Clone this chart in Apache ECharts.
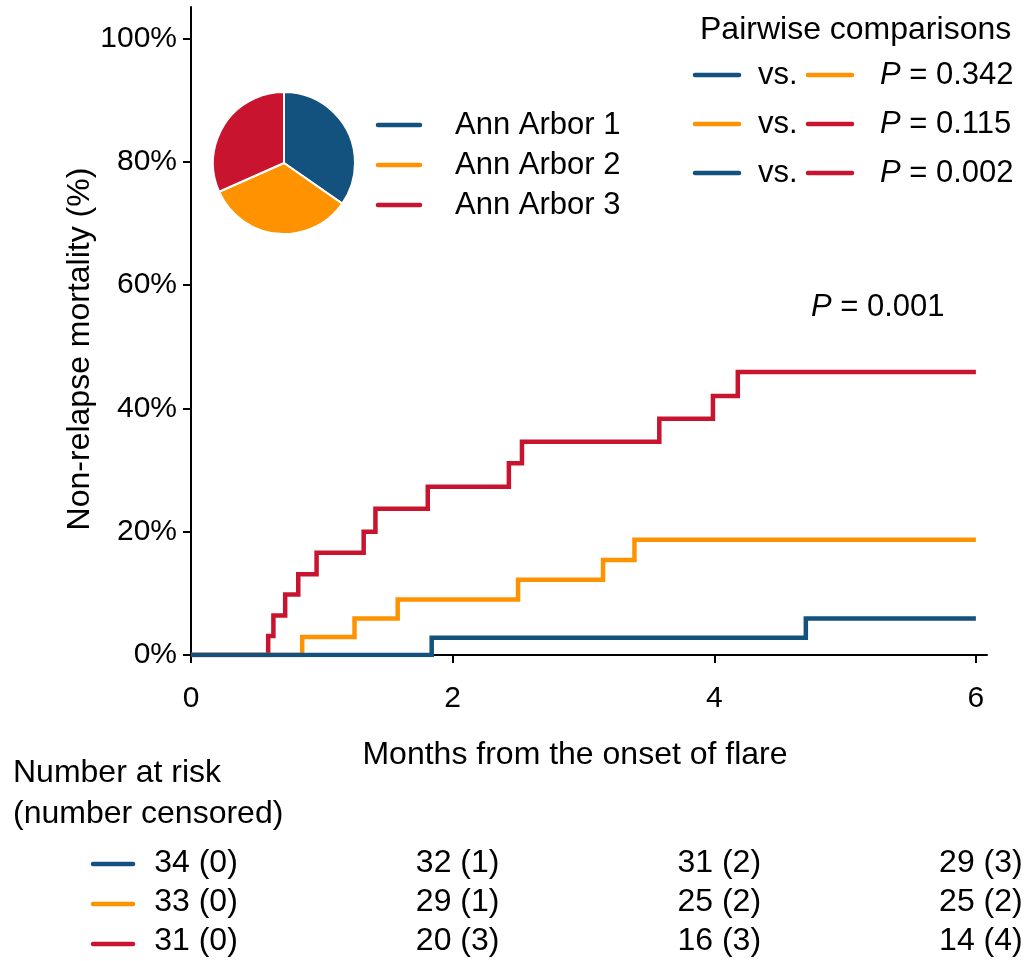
<!DOCTYPE html>
<html><head><meta charset="utf-8">
<script src="https://cdn.jsdelivr.net/npm/echarts@6/dist/echarts.min.js"></script>
<style>html,body{margin:0;padding:0;background:#fff}#c{width:1025px;height:961px}</style>
</head><body><div id="c"></div>
<script>
const groups = ['Ann Arbor 1', 'Ann Arbor 2', 'Ann Arbor 3'];
const colors = ['#13527F', '#FF9200', '#C8142F'];
const aa1Time = [0, 1.84, 4.70, 6];
const aa1Pct = [0, 2.8, 5.9, 5.9];
const aa2Time = [0, 0.85, 1.25, 1.58, 2.50, 3.15, 3.39, 6];
const aa2Pct = [0, 2.9, 5.9, 9.0, 12.2, 15.4, 18.7, 18.7];
const aa3Time = [0, 0.59, 0.63, 0.72, 0.82, 0.96, 1.32, 1.41, 1.81, 2.43, 2.53, 3.58, 3.99, 4.18, 6];
const aa3Pct = [0, 3.1, 6.4, 9.8, 13.1, 16.6, 20.0, 23.7, 27.3, 31.1, 34.6, 38.3, 42.0, 45.9, 45.9];
const xTicks = [0, 2, 4, 6];
const yTicks = [0, 20, 40, 60, 80, 100];
const riskTimes = [0, 2, 4, 6];
const aa1AtRisk = [34, 32, 31, 29], aa1Cens = [0, 1, 2, 3];
const aa2AtRisk = [33, 29, 25, 25], aa2Cens = [0, 1, 2, 2];
const aa3AtRisk = [31, 20, 16, 14], aa3Cens = [0, 3, 3, 4];
const pairs = [[0, 1], [1, 2], [0, 2]];
const pairP = ['0.342', '0.115', '0.002'];
const overallP = '0.001';
const xTitle = 'Months from the onset of flare';
const yTitle = 'Non-relapse mortality (%)';

const FONT = "'Liberation Sans', Arial, sans-serif";
const times = [aa1Time, aa2Time, aa3Time];
const pcts = [aa1Pct, aa2Pct, aa3Pct];
const atRisk = [aa1AtRisk, aa2AtRisk, aa3AtRisk];
const cens = [aa1Cens, aa2Cens, aa3Cens];

const chart = echarts.init(document.getElementById('c'), null, {renderer: 'canvas'});

const lineSeries = [2, 1, 0].map(g => ({
  type: 'line', name: groups[g], xAxisIndex: 0, yAxisIndex: 0,
  step: 'end', symbol: 'none', silent: true,
  data: times[g].map((t, i) => [t, pcts[g][i]]),
  lineStyle: {color: colors[g], width: 4.5, cap: 'butt', join: 'miter'},
  z: 3 + (2 - g)
}));

const tableData = [];
for (let g = 0; g < 3; g++) {
  riskTimes.forEach((t, i) => tableData.push([t, g, atRisk[g][i] + ' (' + cens[g][i] + ')']));
}

const graphics = [];
function hline(x1, x2, y, color) {
  graphics.push({type: 'line', shape: {x1, y1: y, x2, y2: y}, style: {stroke: color, lineWidth: 4.5, lineCap: 'round'}, silent: true});
}
function text(x, y, t, size, opts) {
  graphics.push(Object.assign({type: 'text', x, y, silent: true,
    style: Object.assign({text: t, font: size + 'px ' + FONT, fill: '#000', verticalAlign: 'middle', align: 'left'}, opts || {})}));
}
const italic = s => ({rich: {i: {font: 'italic ' + s + 'px ' + FONT}}});
// legend
groups.forEach((name, g) => {
  const y = 125 + g * 40;
  hline(378, 420, y, colors[g]);
  text(455, y, name, 31);
});
// pairwise
text(700, 30, 'Pairwise comparisons', 32);
pairs.forEach((p, k) => {
  const y = 75 + k * 49;
  hline(695, 739, y, colors[p[0]]);
  text(758, y, 'vs.', 31);
  hline(808, 852, y, colors[p[1]]);
  text(880, y, '{i|P} = ' + pairP[k], 31, italic(31));
});
text(811, 307, '{i|P} = ' + overallP, 31, italic(31));
// axis titles
text(575, 755, xTitle, 32, {align: 'center'});
graphics.push({type: 'text', x: 80, y: 349, rotation: Math.PI / 2, silent: true,
  style: {text: yTitle, font: '32px ' + FONT, fill: '#000', align: 'center', verticalAlign: 'middle'}});
// risk table header
text(13, 773, 'Number at risk', 32);
text(13, 814, '(number censored)', 32);
groups.forEach((name, g) => hline(93, 133, 864 + g * 40, colors[g]));

const option = {
  animation: false,
  backgroundColor: '#fff',
  textStyle: {fontFamily: FONT},
  grid: [
    {left: 191, top: 7, width: 796, height: 648, containLabel: false},
    {left: 191, top: 844, width: 796, height: 120, containLabel: false}
  ],
  xAxis: [
    {type: 'value', gridIndex: 0, min: 0, max: 6.085,
     axisLine: {show: true, onZero: false, lineStyle: {color: '#000', width: 2}},
     axisTick: {show: true, length: 8, customValues: xTicks, lineStyle: {color: '#000', width: 2}},
     axisLabel: {customValues: xTicks, margin: 29, fontSize: 30, color: '#000', fontFamily: FONT},
     splitLine: {show: false}},
    {type: 'value', gridIndex: 1, min: 0, max: 6.085, show: false}
  ],
  yAxis: [
    {type: 'value', gridIndex: 0, min: 0, max: 105.08,
     axisLine: {show: true, lineStyle: {color: '#000', width: 2}},
     axisTick: {show: true, length: 8, customValues: yTicks, lineStyle: {color: '#000', width: 2}},
     axisLabel: {customValues: yTicks, margin: 14, fontSize: 30, color: '#000', fontFamily: FONT, formatter: '{value}%'},
     splitLine: {show: false}},
    {type: 'category', gridIndex: 1, data: groups, inverse: true, show: false}
  ],
  series: lineSeries.concat([
    {type: 'scatter', xAxisIndex: 1, yAxisIndex: 1, symbolSize: 0, silent: true,
     itemStyle: {opacity: 1},
     data: tableData,
     label: {show: true, position: 'inside', offset: [5, 0], formatter: p => p.value[2],
       fontSize: 32, color: '#000', opacity: 1, textBorderWidth: 0, fontFamily: FONT}},
    {type: 'pie', center: [284, 163], radius: 71, startAngle: 90, clockwise: true, silent: true,
     label: {show: false}, labelLine: {show: false},
     itemStyle: {borderColor: '#fff', borderWidth: 2},
     data: groups.map((n, g) => ({name: n, value: atRisk[g][0], itemStyle: {color: colors[g]}}))}
  ]),
  graphic: graphics
};
chart.setOption(option);
</script>
</body></html>
